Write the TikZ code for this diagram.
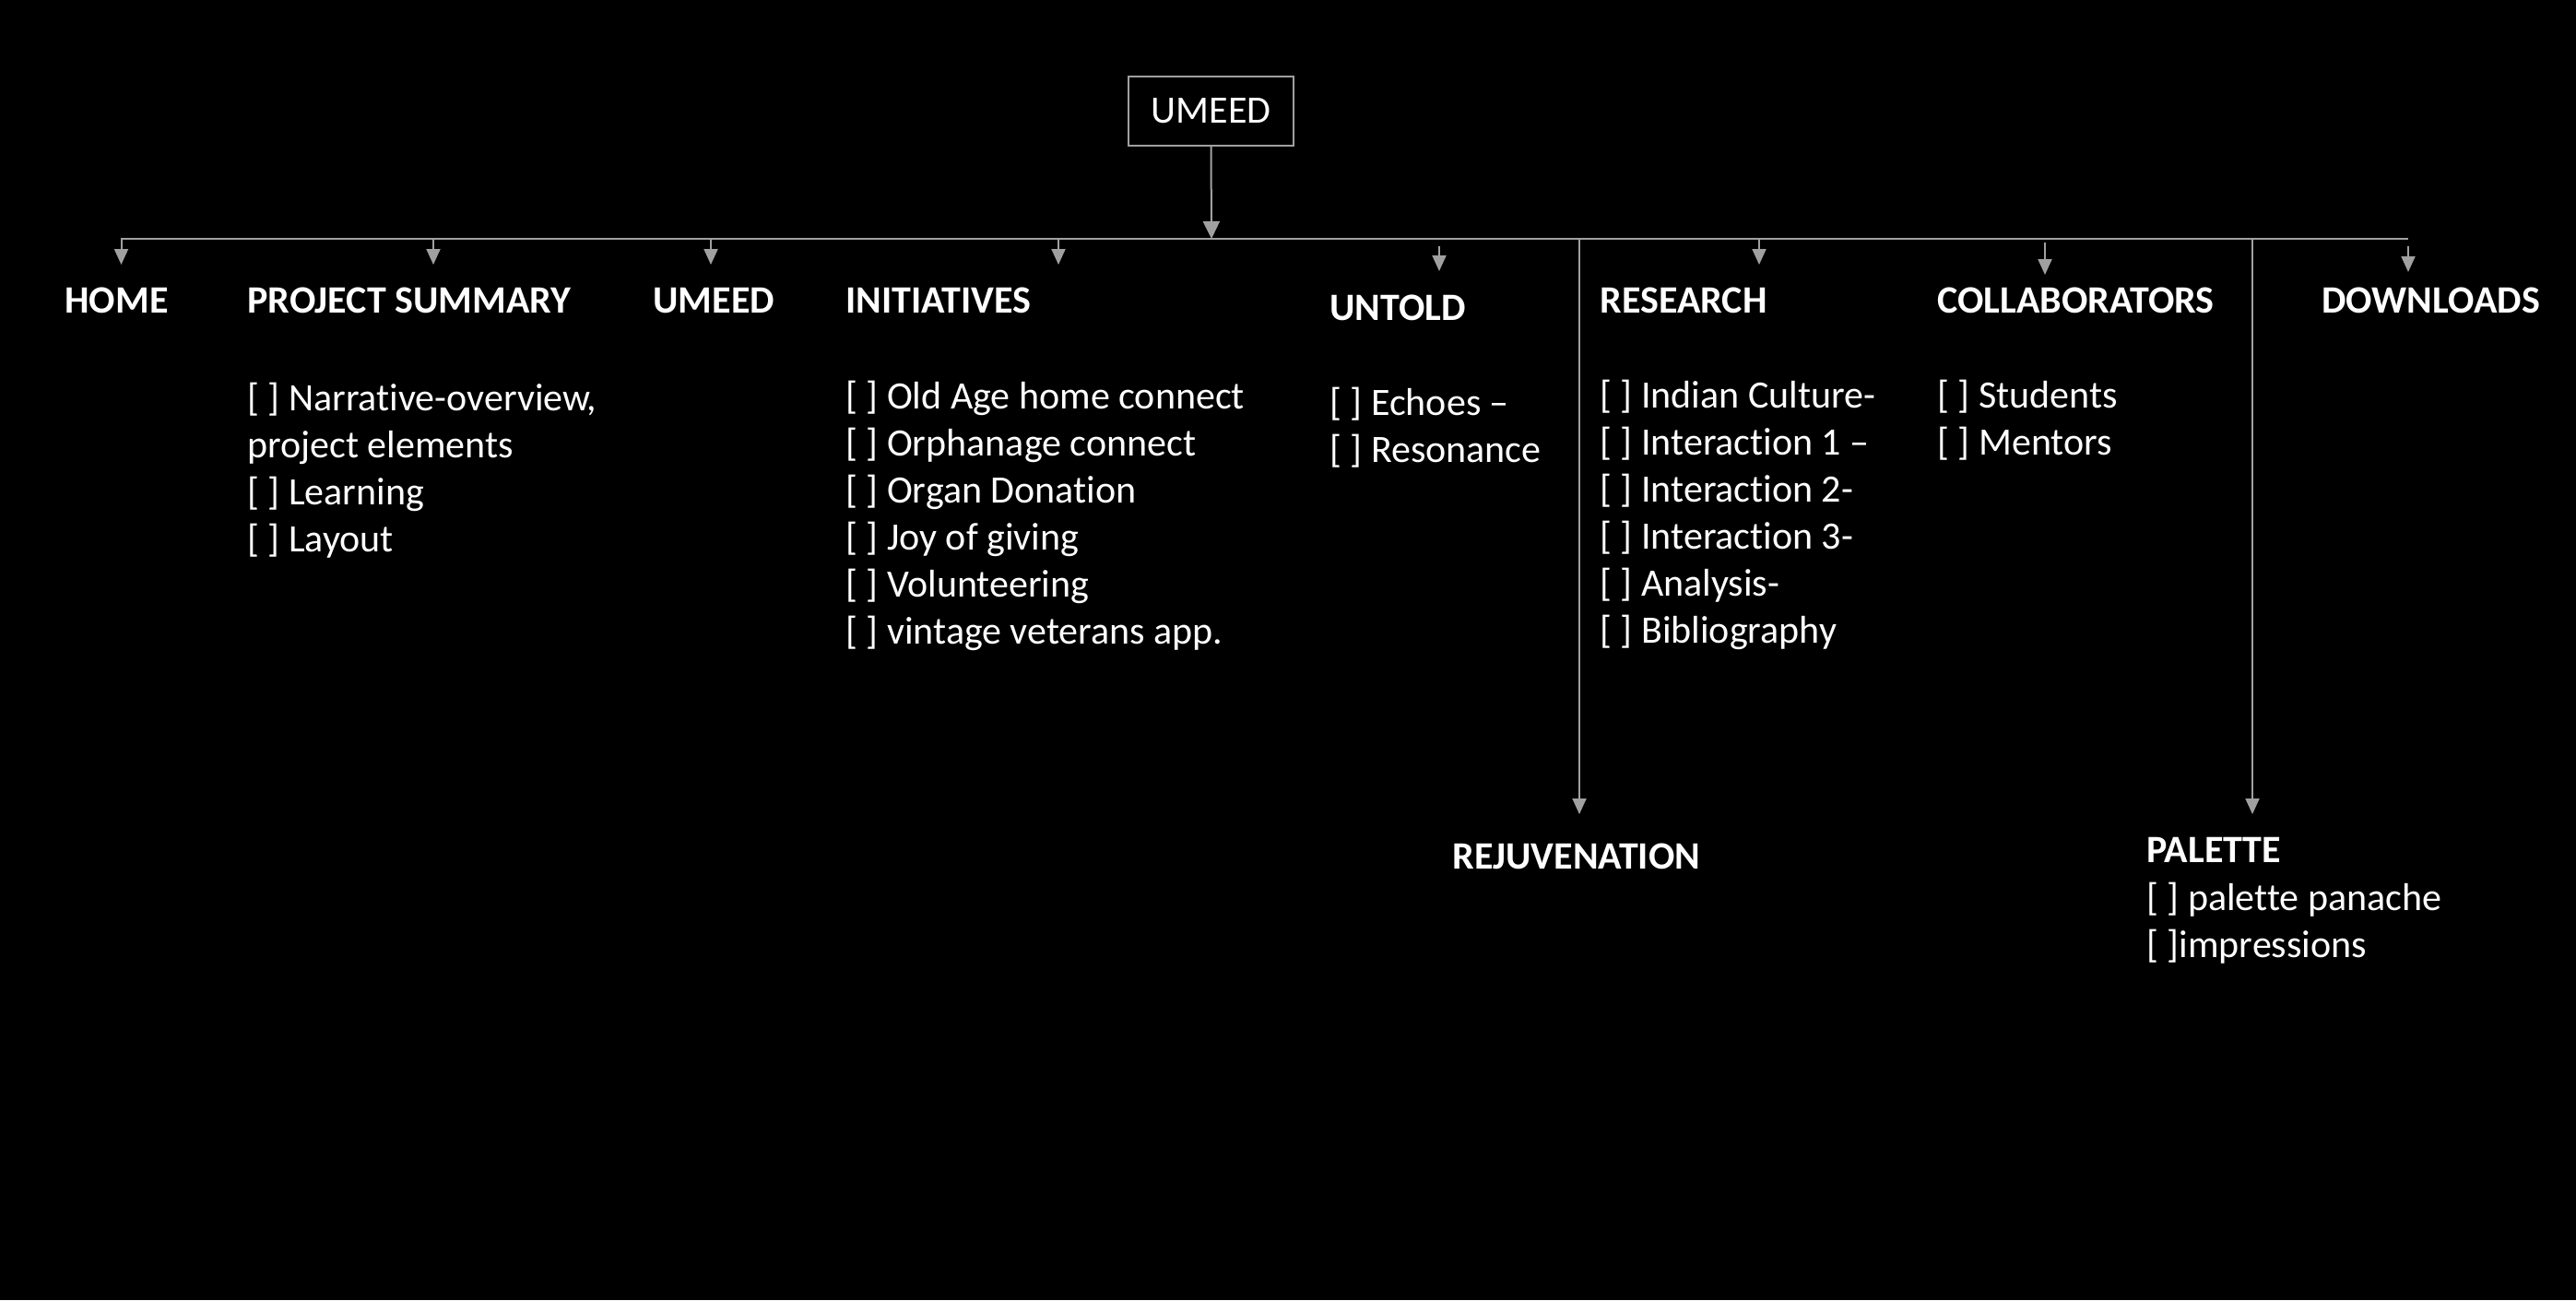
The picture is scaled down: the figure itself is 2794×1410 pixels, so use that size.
\documentclass[tikz,border=0pt]{standalone}
\usepackage{fontspec}
\setmainfont{Carlito}[Ligatures=NoCommon]
\usetikzlibrary{arrows.meta}
\definecolor{linegray}{HTML}{A0A0A0}
\begin{document}
\begin{tikzpicture}[x=0.5pt,y=-0.5pt,
  conn/.style={draw=linegray, line width=1pt},
  arr/.style={conn, -{Triangle[length=8.5pt,width=7.5pt]}},
  mainarr/.style={conn, -{Triangle[length=9.5pt,width=9pt]}},
  head/.style={font=\fontsize{21}{25.5}\selectfont\bfseries, text=white, inner sep=0pt, anchor=base west},
  body/.style={font=\fontsize{21}{25.5}\selectfont, text=white, inner sep=0pt, anchor=base west, align=left},
]
\useasboundingbox (0,0) rectangle (2794,1410);
\fill[black] (0,0) rectangle (2794,1410);

% root
\node[draw=linegray, line width=1pt, minimum width=89.5pt, minimum height=37.5pt,
      inner sep=0pt, font=\fontsize{21}{24}\selectfont, text=white] (root) at (1313.5,120.5) {UMEED};
\coordinate (rootj) at (1314,259);
\coordinate (barL) at (131,259);
\coordinate (barR) at (2612,259);
\draw[conn] (barL) -- (barR);
\draw[mainarr] (root.south) -- (rootj);

% branch coordinates
\coordinate (hS) at (131.5,259);  \coordinate (hT) at (131.5,287);
\coordinate (pS) at (470,259);    \coordinate (pT) at (470,287);
\coordinate (uS) at (771,259);    \coordinate (uT) at (771,287);
\coordinate (iS) at (1148,259);   \coordinate (iT) at (1148,287);
\coordinate (tS) at (1561,267);   \coordinate (tT) at (1561,294);
\coordinate (jS) at (1713,259);   \coordinate (jT) at (1713,883);
\coordinate (rS) at (1908,259);   \coordinate (rT) at (1908,287);
\coordinate (cS) at (2218,263);   \coordinate (cT) at (2218,298);
\coordinate (aS) at (2443,259);   \coordinate (aT) at (2443,883);
\coordinate (dS) at (2612,267);   \coordinate (dT) at (2612,295);
\foreach \a in {h,p,u,i,t,j,r,c,a,d}{\draw[arr] (\a S) -- (\a T);}

% headings
\node[head] (home) at (70,339) {HOME};
\node[head] (psum) at (268,339) {PROJECT SUMMARY};
\node[head] (umeed) at (708,339) {UMEED};
\node[head] (init) at (917,339) {INITIATIVES};
\node[head] (untold) at (1442,347) {UNTOLD};
\node[head] (res) at (1735,339) {RESEARCH};
\node[head] (collab) at (2101,339) {COLLABORATORS};
\node[head] (down) at (2518,339) {DOWNLOADS};
\node[head] (rejuv) at (1575,942) {REJUVENATION};
\node[head] (pal) at (2328,935) {PALETTE};

% bodies (base anchor = baseline of the last line)
\node[body] (psumb) at (268,598) {{[ ]} Narrative-overview,\\project elements\\{[ ]} Learning\\{[ ]} Layout};
\node[body] (initb) at (917,698) {{[ ]} Old Age home connect\\{[ ]} Orphanage connect\\{[ ]} Organ Donation\\{[ ]} Joy of giving\\{[ ]} Volunteering\\{[ ]} vintage veterans app.};
\node[body] (untoldb) at (1442,501) {{[ ]} Echoes –\\{[ ]} Resonance};
\node[body] (resb) at (1735,697) {{[ ]} Indian Culture-\\{[ ]} Interaction 1 –\\{[ ]} Interaction 2-\\{[ ]} Interaction 3-\\{[ ]} Analysis-\\{[ ]} Bibliography};
\node[body] (collabb) at (2101,493) {{[ ]} Students\\{[ ]} Mentors};
\node[body] (palb) at (2328,1038) {{[ ]} palette panache\\{[ ]}impressions};
\end{tikzpicture}
\end{document}
